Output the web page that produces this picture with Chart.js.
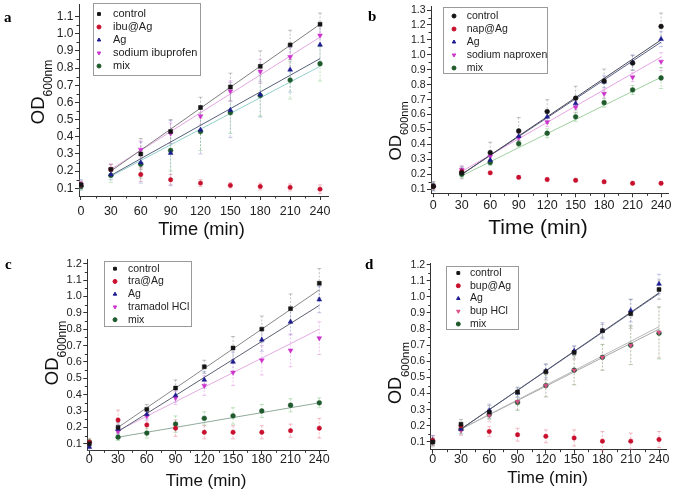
<!DOCTYPE html>
<html>
<head>
<meta charset="utf-8">
<script src="https://cdn.jsdelivr.net/npm/chart.js@4.4.1/dist/chart.umd.min.js"></script>
<style>
    body { margin: 0; background: #fff; width: 675px; height: 496px; position: relative; overflow: hidden; }
    canvas { position: absolute; }
</style>
</head>
<body>
<canvas id="pa" width="337" height="248" style="left:0;top:0"></canvas>
<canvas id="pb" width="337" height="248" style="left:338px;top:0"></canvas>
<canvas id="pc" width="337" height="248" style="left:0;top:248px"></canvas>
<canvas id="pd" width="337" height="248" style="left:338px;top:248px"></canvas>
<script>
// ---- data ----
const times = [0, 30, 60, 90, 120, 150, 180, 210, 240];
const fitTimes = [30, 240];
const xTicks = [0, 30, 60, 90, 120, 150, 180, 210, 240];
const yTicksA = [0.1, 0.2, 0.3, 0.4, 0.5, 0.6, 0.7, 0.8, 0.9, 1.0, 1.1];
const yTicksB = [0.1, 0.2, 0.3, 0.4, 0.5, 0.6, 0.7, 0.8, 0.9, 1.0, 1.1, 1.2, 1.3];
const yTicksC = [0.1, 0.2, 0.3, 0.4, 0.5, 0.6, 0.7, 0.8, 0.9, 1.0, 1.1, 1.2];

// panel a
const aControl = [0.12, 0.21, 0.30, 0.43, 0.57, 0.69, 0.81, 0.935, 1.055];
const aIbuAg   = [0.12, 0.21, 0.18, 0.15, 0.13, 0.117, 0.11, 0.105, 0.095];
const aAg      = [0.12, 0.18, 0.25, 0.305, 0.44, 0.555, 0.645, 0.79, 0.935];
const aIbu     = [0.12, 0.21, 0.325, 0.42, 0.52, 0.665, 0.78, 0.865, 0.99];
const aMix     = [0.11, 0.175, 0.24, 0.32, 0.43, 0.54, 0.64, 0.73, 0.825];
const aControlErr = [0.02, 0.03, 0.09, 0.07, 0.06, 0.08, 0.09, 0.085, 0.065];
const aIbuAgErr   = [0.02, 0.03, 0.04, 0.03, 0.02, 0.015, 0.02, 0.02, 0.025];
const aAgErr      = [0.03, 0.03, 0.12, 0.19, 0.14, 0.16, 0.13, 0.13, 0.12];
const aIbuErr     = [0.02, 0.03, 0.05, 0.06, 0.05, 0.06, 0.07, 0.07, 0.06];
const aMixErr     = [0.02, 0.04, 0.08, 0.12, 0.11, 0.12, 0.12, 0.11, 0.10];
const aControlFit = [0.20, 1.055];
const aAgFit      = [0.175, 0.855];
const aIbuFit     = [0.21, 0.98];
const aMixFit     = [0.17, 0.81];

// panel b
const bControl = [0.12, 0.21, 0.345, 0.49, 0.62, 0.71, 0.825, 0.945, 1.19];
const bNapAg   = [0.12, 0.22, 0.21, 0.18, 0.165, 0.16, 0.15, 0.14, 0.14];
const bAg      = [0.12, 0.22, 0.295, 0.455, 0.585, 0.675, 0.82, 0.95, 1.105];
const bNap     = [0.12, 0.23, 0.32, 0.445, 0.55, 0.65, 0.74, 0.85, 0.955];
const bMix     = [0.12, 0.20, 0.28, 0.405, 0.475, 0.585, 0.68, 0.765, 0.845];
const bControlErr = [0.03, 0.04, 0.07, 0.09, 0.08, 0.08, 0.08, 0.05, 0.09];
const bNapAgErr   = [0.02, 0.02, 0.01, 0.01, 0.01, 0.01, 0.01, 0.01, 0.01];
const bAgErr      = [0.03, 0.03, 0.03, 0.03, 0.03, 0.03, 0.04, 0.05, 0.05];
const bNapErr     = [0.02, 0.03, 0.03, 0.03, 0.03, 0.04, 0.03, 0.03, 0.06];
const bMixErr     = [0.02, 0.02, 0.02, 0.02, 0.03, 0.03, 0.03, 0.03, 0.07];
const bControlFit = [0.20, 1.10];
const bAgFit      = [0.20, 1.085];
const bNapFit     = [0.22, 0.985];
const bMixFit     = [0.19, 0.85];

// panel c
const cControl = [0.10, 0.20, 0.31, 0.44, 0.57, 0.685, 0.80, 0.925, 1.08];
const cTraAg   = [0.11, 0.245, 0.215, 0.195, 0.17, 0.17, 0.17, 0.18, 0.195];
const cAg      = [0.08, 0.19, 0.28, 0.395, 0.49, 0.60, 0.735, 0.845, 0.98];
const cTra     = [0.10, 0.175, 0.27, 0.38, 0.455, 0.535, 0.61, 0.67, 0.745];
const cMix     = [0.11, 0.14, 0.165, 0.22, 0.255, 0.27, 0.30, 0.335, 0.35];
const cControlErr = [0.02, 0.03, 0.03, 0.05, 0.04, 0.07, 0.08, 0.09, 0.09];
const cTraAgErr   = [0.02, 0.06, 0.05, 0.05, 0.04, 0.04, 0.04, 0.04, 0.06];
const cAgErr      = [0.02, 0.03, 0.03, 0.04, 0.05, 0.06, 0.07, 0.08, 0.08];
const cTraErr     = [0.02, 0.03, 0.03, 0.04, 0.06, 0.08, 0.09, 0.10, 0.10];
const cMixErr     = [0.02, 0.02, 0.03, 0.05, 0.04, 0.05, 0.04, 0.04, 0.03];
const cControlFit = [0.20, 1.04];
const cAgFit      = [0.175, 0.945];
const cTraFit     = [0.18, 0.80];
const cMixFit     = [0.14, 0.35];

// panel d
const dControl = [0.10, 0.21, 0.285, 0.41, 0.535, 0.655, 0.79, 0.895, 1.045];
const dBupAg   = [0.11, 0.20, 0.165, 0.145, 0.135, 0.125, 0.105, 0.105, 0.115];
const dAg      = [0.11, 0.18, 0.295, 0.405, 0.54, 0.665, 0.79, 0.915, 1.08];
const dBup     = [0.10, 0.17, 0.265, 0.35, 0.45, 0.545, 0.625, 0.70, 0.78];
const dMix     = [0.10, 0.18, 0.27, 0.345, 0.45, 0.545, 0.625, 0.70, 0.775];
const dControlErr = [0.03, 0.03, 0.04, 0.03, 0.05, 0.04, 0.04, 0.09, 0.06];
const dBupAgErr   = [0.03, 0.02, 0.03, 0.04, 0.04, 0.05, 0.06, 0.05, 0.05];
const dAgErr      = [0.03, 0.03, 0.04, 0.03, 0.04, 0.03, 0.05, 0.07, 0.06];
const dBupErr     = [0.02, 0.03, 0.04, 0.05, 0.07, 0.09, 0.08, 0.12, 0.16];
const dMixErr     = [0.02, 0.03, 0.03, 0.05, 0.07, 0.09, 0.08, 0.12, 0.16];
const dControlFit = [0.18, 1.025];
const dAgFit      = [0.18, 1.02];
const dBupFit     = [0.18, 0.815];
const dMixFit     = [0.18, 0.80];

// ---- styles ----
const FONT = "Arial, 'Liberation Sans', Helvetica, sans-serif";
const SERIF = "'Times New Roman', 'Liberation Serif', serif";
const BLACK = '#151515', RED = '#c8102e', NAVY = '#1c1c8f', MAGENTA = '#cc33cc', GREEN = '#1f5a2c', PINK = '#d9508a';

function marker(label, values, errors, color, errColor, style, rotation, radius) {
    return { label, values, errors, color, errColor, style, rotation, radius };
}

// Draws error bars, minor ticks, titles, legend and panel letter
const panelDecor = {
    id: 'panelDecor',
    beforeDatasetsDraw(chart) {
        const ctx = chart.ctx;
        const xs = chart.scales.x, ys = chart.scales.y;
        ctx.save();
        chart.data.datasets.forEach(ds => {
            if (!ds.errors) return;
            ctx.strokeStyle = ds.errColor;
            ctx.lineWidth = 1;
            ds.data.forEach((pt, i) => {
                const x = xs.getPixelForValue(pt.x);
                const y1 = ys.getPixelForValue(pt.y + ds.errors[i]);
                const y2 = ys.getPixelForValue(pt.y - ds.errors[i]);
                ctx.setLineDash([2, 1.5]);
                ctx.beginPath();
                ctx.moveTo(x, y1); ctx.lineTo(x, y2);
                ctx.stroke();
                ctx.setLineDash([]);
                ctx.beginPath();
                ctx.moveTo(x - 2, y1); ctx.lineTo(x + 2, y1);
                ctx.moveTo(x - 2, y2); ctx.lineTo(x + 2, y2);
                ctx.stroke();
            });
        });
        ctx.restore();
    },
    afterDraw(chart, args, opts) {
        const ctx = chart.ctx;
        const xs = chart.scales.x, ys = chart.scales.y;
        const area = chart.chartArea;
        ctx.save();
        // minor ticks
        ctx.strokeStyle = '#333';
        ctx.lineWidth = 1;
        ctx.beginPath();
        for (let i = 0; i < xTicks.length - 1; i++) {
            const x = Math.round(xs.getPixelForValue((xTicks[i] + xTicks[i + 1]) / 2)) + 0.5;
            ctx.moveTo(x, area.bottom); ctx.lineTo(x, area.bottom + 2.5);
        }
        const yt = opts.yTicks;
        for (let i = 0; i < yt.length - 1; i++) {
            const y = Math.round(ys.getPixelForValue((yt[i] + yt[i + 1]) / 2)) + 0.5;
            ctx.moveTo(area.left, y); ctx.lineTo(area.left - 2.5, y);
        }
        ctx.stroke();

        // x title
        ctx.fillStyle = '#111';
        ctx.textAlign = 'center';
        ctx.textBaseline = 'middle';
        ctx.font = opts.xTitle.size + 'px ' + FONT;
        ctx.fillText('Time (min)', opts.xTitle.x, opts.xTitle.y);

        // y title with subscript
        ctx.save();
        ctx.translate(opts.yTitle.x, opts.yTitle.y);
        ctx.rotate(-Math.PI / 2);
        ctx.font = opts.yTitle.size + 'px ' + FONT;
        const wOD = ctx.measureText('OD').width;
        ctx.font = opts.yTitle.sub + 'px ' + FONT;
        const wSub = ctx.measureText('600nm').width;
        const start = -(wOD + wSub) / 2;
        ctx.textAlign = 'left';
        ctx.font = opts.yTitle.size + 'px ' + FONT;
        ctx.fillText('OD', start, 0);
        ctx.font = opts.yTitle.sub + 'px ' + FONT;
        ctx.fillText('600nm', start + wOD, opts.yTitle.size * 0.55);
        ctx.restore();

        // panel letter
        ctx.font = 'bold 15px ' + SERIF;
        ctx.textAlign = 'left';
        ctx.textBaseline = 'alphabetic';
        ctx.fillStyle = '#000';
        ctx.fillText(opts.letter.ch, opts.letter.x, opts.letter.y);

        // legend
        const lg = opts.legend;
        ctx.strokeStyle = '#9a9a9a';
        ctx.lineWidth = 1;
        ctx.fillStyle = '#fff';
        ctx.fillRect(lg.x, lg.y, lg.w, lg.h);
        ctx.strokeRect(Math.round(lg.x) + 0.5, Math.round(lg.y) + 0.5, Math.round(lg.w), Math.round(lg.h));
        ctx.font = lg.font + 'px ' + FONT;
        ctx.textBaseline = 'middle';
        let row = 0;
        chart.data.datasets.forEach(ds => {
            if (!ds.errors) return;
            const y = lg.row0 + row * lg.rowH;
            ctx.fillStyle = ds.backgroundColor;
            ctx.strokeStyle = ds.backgroundColor;
            Chart.helpers.drawPoint(ctx, { pointStyle: ds.pointStyle, rotation: ds.rotation, radius: 2, borderWidth: 0.5 }, lg.mx, y);
            ctx.fillStyle = '#222';
            ctx.fillText(ds.label, lg.tx, y);
            row++;
        });
        ctx.restore();
    }
};

function makePanel(id, p) {
    const datasets = [];
    p.fits.forEach(f => {
        datasets.push({
            data: fitTimes.map((t, k) => ({ x: t, y: f.values[k] })),
            showLine: true, borderColor: f.color, borderWidth: 1,
            pointRadius: 0, fill: false, order: 2
        });
    });
    p.series.forEach(s => {
        datasets.push({
            label: s.label,
            data: times.map((t, k) => ({ x: t, y: s.values[k] })),
            errors: s.errors, errColor: s.errColor,
            pointStyle: s.style, rotation: s.rotation, pointRadius: s.radius,
            backgroundColor: s.color, borderColor: s.color, borderWidth: 0.5,
            order: 1
        });
    });

    const W = 337, H = 248;
    return new Chart(document.getElementById(id), {
        type: 'scatter',
        data: { datasets },
        plugins: [panelDecor],
        options: {
            responsive: false,
            animation: false,
            layout: { padding: { left: 0, top: p.area.top, right: W - p.area.right, bottom: 0 } },
            plugins: {
                legend: { display: false },
                tooltip: { enabled: false },
                panelDecor: { yTicks: p.yTicks, xTitle: p.xTitle, yTitle: p.yTitle, letter: p.letter, legend: p.legend }
            },
            scales: {
                x: {
                    type: 'linear', min: p.xRange[0], max: p.xRange[1],
                    afterBuildTicks: sc => { sc.ticks = xTicks.map(v => ({ value: v })); },
                    afterFit: sc => { sc.height = H - p.area.bottom; sc.paddingLeft = 0; sc.paddingRight = 0; },
                    grid: { drawOnChartArea: false, tickLength: 4, color: '#333' },
                    border: { color: '#333', width: 1 },
                    ticks: { font: { size: 12.5, family: FONT }, color: '#222', padding: p.xPad, maxRotation: 0, autoSkip: false }
                },
                y: {
                    type: 'linear', min: p.yRange[0], max: p.yRange[1],
                    afterBuildTicks: sc => { sc.ticks = p.yTicks.map(v => ({ value: v })); },
                    afterFit: sc => { sc.width = p.area.left; sc.paddingTop = 0; sc.paddingBottom = 0; },
                    grid: { drawOnChartArea: false, tickLength: 4, color: '#333' },
                    border: { color: '#333', width: 1 },
                    ticks: { font: { size: p.yFont, family: FONT }, color: '#222', padding: 1.5, autoSkip: false,
                             callback: v => v.toFixed(1) }
                }
            }
        }
    });
}

document.addEventListener('DOMContentLoaded', () => {
    const eGrey = 'rgba(120,120,120,0.45)', eRed = 'rgba(230,120,140,0.5)', eBlue = 'rgba(120,130,200,0.45)';
    const eMag = 'rgba(220,130,220,0.45)', eGreen = 'rgba(110,190,110,0.45)';

    makePanel('pa', {
        area: { left: 79, top: 2, right: 328, bottom: 196 },
        xRange: [-2, 248], yRange: [0.055, 1.17], yTicks: yTicksA, yFont: 12, xPad: 4,
        xTitle: { x: 201.5, y: 230, size: 18.3 }, yTitle: { x: 39, y: 92, size: 18.5, sub: 12 },
        letter: { ch: 'a', x: 4, y: 22 },
        legend: { x: 93, y: 3, w: 107, h: 72, row0: 14, rowH: 13, mx: 99, tx: 113, font: 11 },
        series: [
            marker('control', aControl, aControlErr, BLACK, eGrey, 'rect', 0, 2.8),
            marker('ibu@Ag', aIbuAg, aIbuAgErr, RED, eRed, 'circle', 0, 2.2),
            marker('Ag', aAg, aAgErr, NAVY, eBlue, 'triangle', 0, 2.8),
            marker('sodium ibuprofen', aIbu, aIbuErr, MAGENTA, eMag, 'triangle', 180, 2.8),
            marker('mix', aMix, aMixErr, GREEN, eGreen, 'circle', 0, 2.4)
        ],
        fits: [
            { values: aControlFit, color: '#7d7d7d' },
            { values: aIbuFit, color: '#e2a6e2' },
            { values: aAgFit, color: '#56607a' },
            { values: aMixFit, color: '#93d0cc' }
        ]
    });

    makePanel('pb', {
        area: { left: 93, top: 6, right: 330, bottom: 193.3 },
        xRange: [-2.4, 247.3], yRange: [0.073, 1.327], yTicks: yTicksB, yFont: 10.5, xPad: 1.2,
        xTitle: { x: 200, y: 228, size: 21 }, yTitle: { x: 58, y: 131, size: 17, sub: 11 },
        letter: { ch: 'b', x: 30, y: 21 },
        legend: { x: 104.7, y: 7, w: 104, h: 66, row0: 16, rowH: 13, mx: 116, tx: 128.7, font: 10.5 },
        series: [
            marker('control', bControl, bControlErr, BLACK, eGrey, 'circle', 0, 2.4),
            marker('nap@Ag', bNapAg, bNapAgErr, RED, eRed, 'circle', 0, 2.2),
            marker('Ag', bAg, bAgErr, NAVY, eBlue, 'triangle', 0, 2.8),
            marker('sodium naproxen', bNap, bNapErr, MAGENTA, eMag, 'triangle', 180, 2.8),
            marker('mix', bMix, bMixErr, GREEN, eGreen, 'circle', 0, 2.4)
        ],
        fits: [
            { values: bControlFit, color: '#4a4a58' },
            { values: bAgFit, color: '#5a5f88' },
            { values: bNapFit, color: '#e6a3e6' },
            { values: bMixFit, color: '#9fd09f' }
        ]
    });

    makePanel('pc', {
        area: { left: 87.3, top: 11.7, right: 326, bottom: 202.3 },
        xRange: [-2.1, 247], yRange: [0.06, 1.224], yTicks: yTicksC, yFont: 11, xPad: -2,
        xTitle: { x: 206, y: 233, size: 17 }, yTitle: { x: 52.5, y: 105, size: 18.5, sub: 12 },
        letter: { ch: 'c', x: 5, y: 21 },
        legend: { x: 104, y: 13.3, w: 86.7, h: 65, row0: 20.7, rowH: 12.75, mx: 115, tx: 128, font: 10.5 },
        series: [
            marker('control', cControl, cControlErr, BLACK, eGrey, 'rect', 0, 2.8),
            marker('tra@Ag', cTraAg, cTraAgErr, RED, eRed, 'circle', 0, 2.2),
            marker('Ag', cAg, cAgErr, NAVY, eBlue, 'triangle', 0, 2.8),
            marker('tramadol HCl', cTra, cTraErr, MAGENTA, eMag, 'triangle', 180, 2.8),
            marker('mix', cMix, cMixErr, GREEN, eGreen, 'circle', 0, 2.4)
        ],
        fits: [
            { values: cControlFit, color: '#888888' },
            { values: cAgFit, color: '#5a6070' },
            { values: cTraFit, color: '#e2abe2' },
            { values: cMixFit, color: '#8faa9a' }
        ]
    });

    makePanel('pd', {
        area: { left: 92.7, top: 15, right: 328, bottom: 201.7 },
        xRange: [-2.1, 247.4], yRange: [0.052, 1.21], yTicks: yTicksC, yFont: 10.5, xPad: -1.5,
        xTitle: { x: 209.5, y: 230, size: 17 }, yTitle: { x: 58, y: 125, size: 18, sub: 11.5 },
        letter: { ch: 'd', x: 27, y: 21 },
        legend: { x: 108, y: 18.3, w: 72.3, h: 63.4, row0: 25, rowH: 12.75, mx: 120.3, tx: 132, font: 10.5 },
        series: [
            marker('control', dControl, dControlErr, BLACK, eGrey, 'rect', 0, 2.8),
            marker('bup@Ag', dBupAg, dBupAgErr, RED, eRed, 'circle', 0, 2.2),
            marker('Ag', dAg, dAgErr, NAVY, eBlue, 'triangle', 0, 2.8),
            marker('bup HCl', dBup, dBupErr, PINK, 'rgba(225,140,180,0.45)', 'triangle', 180, 2.6),
            marker('mix', dMix, dMixErr, GREEN, eGreen, 'circle', 0, 2.4)
        ],
        fits: [
            { values: dControlFit, color: '#555a6a' },
            { values: dAgFit, color: '#60658f' },
            { values: dBupFit, color: '#b8b8b8' },
            { values: dMixFit, color: '#a5aaa5' }
        ]
    });
});
</script>
</body>
</html>
